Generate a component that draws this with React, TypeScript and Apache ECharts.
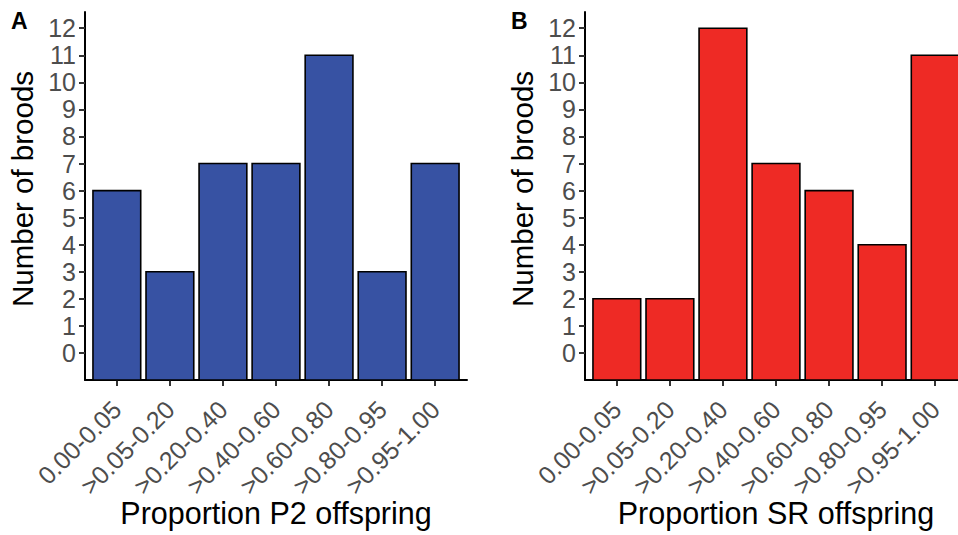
import React, { useEffect, useRef } from "react";
import * as echarts from "echarts";

const categories = ["0.00-0.05", ">0.05-0.20", ">0.20-0.40", ">0.40-0.60", ">0.60-0.80", ">0.80-0.95", ">0.95-1.00"];
const broodsP2 = [6, 3, 7, 7, 11, 3, 7];
const broodsSR = [2, 2, 12, 7, 6, 4, 11];
const yTicks = [0, 1, 2, 3, 4, 5, 6, 7, 8, 9, 10, 11, 12];
const xTicks = [0, 1, 2, 3, 4, 5, 6];
const panelLabels = ["A", "B"];
const xTitles = ["Proportion P2 offspring", "Proportion SR offspring"];
const yTitle = "Number of broods";
const colors = ["#3752A3", "#EE2A25"];

const FONT = '"Liberation Sans", Arial, Helvetica, sans-serif';

export default function App() {
  const ref = useRef<HTMLDivElement>(null);
  useEffect(() => {
    if (!ref.current) return;
    const chart = echarts.init(ref.current, null, { renderer: "svg" });
    const grids = [
      { left: 85, top: 12, width: 382, height: 368, containLabel: false, outerBoundsMode: "none" },
      { left: 585, top: 12, width: 382, height: 368, containLabel: false, outerBoundsMode: "none" },
    ];
    const mkX = (i: number) => ({
      type: "value",
      gridIndex: i,
      min: -0.6,
      max: 6.6,
      name: xTitles[i],
      nameLocation: "middle",
      nameGap: 117,
      nameMoveOverlap: false,
      nameTextStyle: { fontFamily: FONT, fontSize: 30.5, color: "#000", verticalAlign: "top" },
      splitLine: { show: false },
      axisLine: { show: true, onZero: false, lineStyle: { color: "#000", width: 2 } },
      axisTick: { show: true, length: 6, customValues: xTicks, lineStyle: { color: "#333", width: 2 } },
      axisLabel: {
        customValues: xTicks,
        rotate: 45,
        margin: 25,
        fontFamily: FONT,
        fontSize: 25,
        color: "#4D4D4D",
        formatter: (v: number) => categories[Math.round(v)] ?? "",
      },
    });
    const mkY = (i: number) => ({
      type: "value",
      gridIndex: i,
      min: -1,
      max: 12.6,
      splitLine: { show: false },
      axisLine: { show: true, onZero: false, lineStyle: { color: "#000", width: 2 } },
      axisTick: { show: true, length: 6, customValues: yTicks, lineStyle: { color: "#333", width: 2 } },
      axisLabel: {
        customValues: yTicks,
        margin: 9,
        fontFamily: FONT,
        fontSize: 25,
        color: "#4D4D4D",
      },
    });
    const mkSeries = (i: number, vals: number[]) => ({
      type: "custom",
      xAxisIndex: i,
      yAxisIndex: i,
      data: vals.map((v, k) => [k, v]),
      renderItem: (params: any, api: any) => {
        const x = api.value(0);
        const v = api.value(1);
        const top = api.coord([x, v]);
        const bot = api.coord([x, -1]);
        const w = api.size([0.9, 0])[0];
        return {
          type: "rect",
          shape: { x: top[0] - w / 2, y: top[1], width: w, height: bot[1] - top[1] },
          style: { fill: colors[i], stroke: "#000", lineWidth: 1.6 },
        };
      },
    });
    const graphics: any[] = [];
    panelLabels.forEach((t, i) => {
      graphics.push({
        type: "text",
        x: 11 + i * 500,
        y: 9,
        style: { text: t, fontFamily: FONT, fontSize: 23, fontWeight: "bold", fill: "#000", textVerticalAlign: "top" },
      });
      graphics.push({
        type: "text",
        x: 22 + i * 500,
        y: 189,
        rotation: Math.PI / 2,
        style: {
          text: yTitle,
          fontFamily: FONT,
          fontSize: 29.5,
          fill: "#000",
          textAlign: "center",
          textVerticalAlign: "middle",
        },
      });
    });
    chart.setOption({
      animation: false,
      backgroundColor: "#fff",
      grid: grids,
      xAxis: [mkX(0), mkX(1)],
      yAxis: [mkY(0), mkY(1)],
      series: [mkSeries(0, broodsP2), mkSeries(1, broodsSR)],
      graphic: graphics,
    });
    return () => chart.dispose();
  }, []);
  return <div ref={ref} style={{ position: "fixed", left: 0, top: 0, width: 958, height: 535 }} />;
}
